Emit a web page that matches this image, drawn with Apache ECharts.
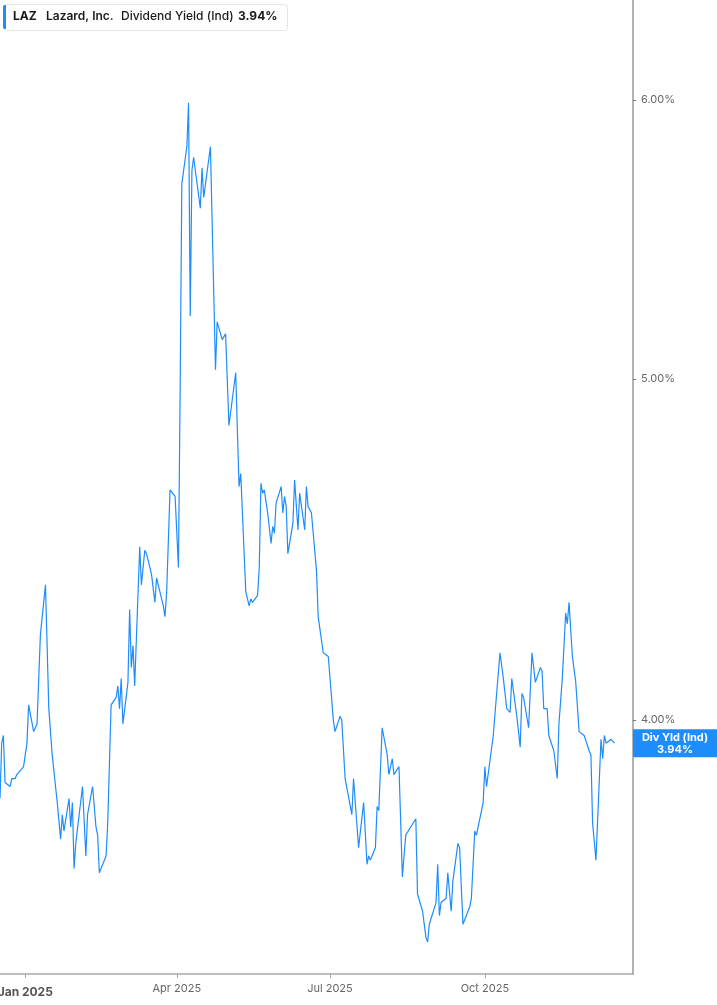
<!DOCTYPE html>
<html>
<head>
<meta charset="utf-8">
<script src="https://cdn.jsdelivr.net/npm/echarts@6/dist/echarts.min.js"></script>
<style>
html,body{margin:0;padding:0;background:#fff;}
#chart{width:717px;height:1005px;}
</style>
</head>
<body>
<div id="chart"></div>
<script>
const ticker = 'LAZ';
const company = 'Lazard, Inc.';
const metric = 'Dividend Yield (Ind)';
const badgeTitle = 'Div Yld (Ind)';

const dates = [
'2024-12-17','2024-12-18','2024-12-19','2024-12-20','2024-12-23','2024-12-24','2024-12-26','2024-12-27','2024-12-31',
'2025-01-02','2025-01-03','2025-01-06','2025-01-08','2025-01-10','2025-01-13','2025-01-15','2025-01-16','2025-01-17',
'2025-01-20','2025-01-22','2025-01-23','2025-01-24','2025-01-27','2025-01-28','2025-01-29','2025-01-30','2025-01-31',
'2025-02-04','2025-02-06','2025-02-07','2025-02-10','2025-02-11','2025-02-12','2025-02-13','2025-02-14','2025-02-18',
'2025-02-19','2025-02-21','2025-02-24','2025-02-25','2025-02-26','2025-02-27','2025-02-28',
'2025-03-03','2025-03-04','2025-03-05','2025-03-06','2025-03-07','2025-03-10','2025-03-11','2025-03-13','2025-03-14',
'2025-03-17','2025-03-19','2025-03-20','2025-03-21','2025-03-24','2025-03-25','2025-03-26','2025-03-28','2025-03-31',
'2025-04-02','2025-04-03','2025-04-04','2025-04-07','2025-04-08','2025-04-09','2025-04-10','2025-04-11','2025-04-15',
'2025-04-16','2025-04-17','2025-04-21','2025-04-24','2025-04-25','2025-04-28','2025-04-30',
'2025-05-02','2025-05-06','2025-05-08','2025-05-09','2025-05-12','2025-05-14','2025-05-15','2025-05-16','2025-05-19',
'2025-05-20','2025-05-21','2025-05-22','2025-05-23','2025-05-25','2025-05-27','2025-05-28','2025-05-29','2025-05-30',
'2025-06-02','2025-06-03','2025-06-04','2025-06-05','2025-06-06','2025-06-09','2025-06-10','2025-06-12','2025-06-13',
'2025-06-16','2025-06-17','2025-06-18','2025-06-20','2025-06-23','2025-06-24','2025-06-25','2025-06-27','2025-06-30',
'2025-07-03','2025-07-04','2025-07-07','2025-07-08','2025-07-10','2025-07-11','2025-07-14','2025-07-15','2025-07-18',
'2025-07-21','2025-07-23','2025-07-24','2025-07-25','2025-07-28','2025-07-29','2025-07-30',
'2025-08-01','2025-08-04','2025-08-05','2025-08-07','2025-08-08','2025-08-11','2025-08-13','2025-08-14','2025-08-15',
'2025-08-18','2025-08-19','2025-08-21','2025-08-22','2025-08-25','2025-08-27','2025-08-28','2025-08-29',
'2025-09-02','2025-09-03','2025-09-04','2025-09-05','2025-09-08','2025-09-09','2025-09-11','2025-09-12','2025-09-15',
'2025-09-16','2025-09-18','2025-09-20','2025-09-22','2025-09-23','2025-09-25','2025-09-26','2025-09-30',
'2025-10-01','2025-10-02','2025-10-06','2025-10-08','2025-10-09','2025-10-10','2025-10-12','2025-10-14','2025-10-16',
'2025-10-17','2025-10-18','2025-10-20','2025-10-22','2025-10-23','2025-10-24','2025-10-27','2025-10-29','2025-10-31',
'2025-11-01','2025-11-03','2025-11-04','2025-11-05','2025-11-07','2025-11-08','2025-11-11','2025-11-13','2025-11-14',
'2025-11-16','2025-11-18','2025-11-19','2025-11-20','2025-11-22','2025-11-24','2025-11-26','2025-11-29',
'2025-12-02','2025-12-03','2025-12-04','2025-12-05','2025-12-06','2025-12-09','2025-12-10','2025-12-11','2025-12-12',
'2025-12-15','2025-12-17'
];

const yields = [
3.80,3.94,3.96,3.84,3.83,3.85,3.85,3.86,3.88,
3.94,4.04,3.97,3.99,4.23,4.37,4.03,4.03,3.91,
3.79,3.70,3.76,3.72,3.80,3.73,3.79,3.63,3.69,
3.83,3.66,3.76,3.83,3.83,3.73,3.71,3.62,3.66,
3.74,4.04,4.06,4.09,4.03,4.11,3.99,
4.10,4.30,4.14,4.20,4.09,4.48,4.37,4.47,4.46,
4.40,4.32,4.39,4.37,4.31,4.28,4.35,4.65,4.63,
4.42,4.96,5.68,5.82,5.99,5.21,5.73,5.78,5.59,
5.74,5.63,5.82,5.03,5.19,5.13,5.15,
4.85,5.02,4.66,4.70,4.35,4.31,4.33,4.32,4.34,
4.42,4.67,4.64,4.65,4.58,4.49,4.54,4.52,4.61,
4.66,4.58,4.63,4.60,4.46,4.55,4.68,4.53,4.64,
4.53,4.66,4.60,4.58,4.41,4.28,4.28,4.18,4.17,
4.00,3.97,4.01,4.00,3.85,3.85,3.76,3.85,3.68,
3.79,3.64,3.66,3.65,3.68,3.78,3.77,
3.98,3.91,3.86,3.90,3.86,3.88,3.61,3.61,3.71,
3.73,3.73,3.75,3.57,3.53,3.47,3.46,3.50,
3.55,3.64,3.52,3.55,3.56,3.62,3.53,3.60,3.69,
3.68,3.50,3.52,3.54,3.56,3.72,3.71,3.79,
3.88,3.83,3.96,4.07,4.07,4.18,4.11,4.03,4.02,
4.11,4.11,4.01,3.93,4.07,4.06,3.98,4.18,4.10,
4.10,4.14,4.13,4.03,4.03,3.96,3.92,3.85,3.99,
4.11,4.29,4.26,4.32,4.17,4.10,3.97,3.96,
3.92,3.91,3.74,3.74,3.65,3.95,3.90,3.96,3.94,
3.95,3.94
];

const yTicks = [4, 5, 6];
const xTickDates = ['2025-01-01','2025-04-01','2025-07-01','2025-10-01'];
const xMinDate = '2024-12-17';
const xMaxDate = '2025-12-28';
const yMin = 3.388, yMax = 6.406;

const BLUE = '#1e8cfa';
const FONT = 'Inter, "Noto Sans", sans-serif';
const monthNames = ['Jan','Feb','Mar','Apr','May','Jun','Jul','Aug','Sep','Oct','Nov','Dec'];
const ts = s => { const p = s.split('-').map(Number); return new Date(p[0], p[1] - 1, p[2]).getTime(); };
const xTickValues = xTickDates.map(ts);
const lastValue = yields[yields.length - 1];

const chart = echarts.init(document.getElementById('chart'), null, {renderer: 'canvas'});
chart.setOption({
  animation: false,
  backgroundColor: '#fff',
  textStyle: {fontFamily: FONT},
  grid: {left: 0, right: 84, top: 0, bottom: 31, containLabel: false, outerBoundsMode: 'none'},
  xAxis: {
    type: 'value',
    min: ts(xMinDate),
    max: ts(xMaxDate),
    splitLine: {show: false},
    axisLine: {show: true, lineStyle: {color: '#a8a8a8', width: 1.5}},
    axisTick: {show: true, customValues: xTickValues, length: 4, lineStyle: {color: '#a8a8a8'}},
    axisLabel: {
      customValues: xTickValues,
      margin: 9,
      color: '#666',
      fontSize: 11,
      fontFamily: FONT,
      formatter: function (v) {
        const d = new Date(v);
        const s = monthNames[d.getMonth()] + ' ' + d.getFullYear();
        return d.getMonth() === 0 ? '{b|' + s + '}' : s;
      },
      rich: {b: {fontWeight: 'bold', fontSize: 12, color: '#555', fontFamily: FONT, padding: [3, 0, 0, 0]}}
    }
  },
  yAxis: {
    type: 'log',
    logBase: 10,
    position: 'right',
    min: yMin,
    max: yMax,
    splitLine: {show: false},
    axisLine: {show: true, lineStyle: {color: '#999', width: 1.5}},
    axisTick: {show: true, inside: false, customValues: yTicks, length: 3, lineStyle: {color: '#777'}},
    axisLabel: {
      customValues: yTicks,
      margin: 8,
      color: '#666',
      fontSize: 11,
      fontFamily: FONT,
      formatter: v => Number(v).toFixed(2) + '%'
    }
  },
  series: [{
    type: 'line',
    data: dates.map((d, i) => [ts(d), yields[i]]),
    showSymbol: false,
    symbol: 'none',
    lineStyle: {color: BLUE, width: 1.2}
  }],
  graphic: [
    {type: 'rect', left: 3, top: 4, shape: {width: 284, height: 26, r: 3}, style: {fill: '#fff', stroke: '#e4e4e4', lineWidth: 1}},
    {type: 'rect', left: 3, top: 5, shape: {width: 3, height: 24, r: [2, 0, 0, 2]}, style: {fill: BLUE}},
    {type: 'text', left: 13, top: 10, style: {text: ticker, font: 'bold 12px ' + FONT, fill: '#1a1a1a'}},
    {type: 'text', left: 46, top: 10, style: {text: company, font: '600 12px ' + FONT, fill: '#1a1a1a'}},
    {type: 'text', left: 121, top: 10, style: {text: metric, font: '500 12px ' + FONT, fill: '#1a1a1a'}},
    {type: 'text', left: 238, top: 10, style: {text: lastValue.toFixed(2) + '%', font: 'bold 12px ' + FONT, fill: '#1a1a1a'}}
  ]
});

// Value badge on the right axis, positioned through the chart's own scales
const badgeY = chart.convertToPixel({yAxisIndex: 0}, lastValue);
const axisX = chart.convertToPixel({xAxisIndex: 0}, ts(xMaxDate));
const badgeW = 717 - axisX, badgeH = 28;
chart.setOption({
  graphic: [
    {type: 'rect', id: 'badge', x: axisX, y: badgeY - badgeH / 2, shape: {width: badgeW, height: badgeH}, style: {fill: BLUE}, z: 10},
    {type: 'text', id: 'badgeText', x: axisX + badgeW / 2, y: badgeY, z: 11,
     style: {text: badgeTitle + '\n' + lastValue.toFixed(2) + '%', font: 'bold 11px ' + FONT, fill: '#fff',
             align: 'center', verticalAlign: 'middle', lineHeight: 12}}
  ]
});
</script>
</body>
</html>
